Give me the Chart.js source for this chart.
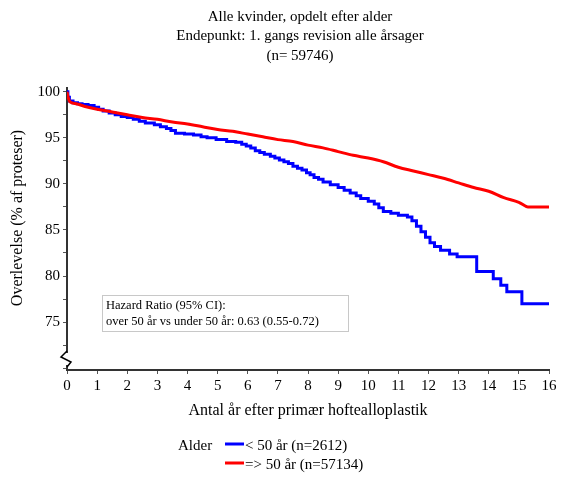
<!DOCTYPE html>
<html>
<head>
<meta charset="utf-8">
<script src="https://cdn.jsdelivr.net/npm/chart.js@4"></script>
<style>
  html, body { margin: 0; padding: 0; background: #fff; }
  #wrap { width: 561px; height: 477px; }
</style>
</head>
<body>
<div id="wrap"><canvas id="chart" width="561" height="477"></canvas></div>
<script>
const ctx = document.getElementById('chart').getContext('2d');

/**
 * Kaplan-Meier data
 */
var over50Years = [0, 0.03, 0.1, 0.3, 0.6, 1, 1.5, 2, 2.5, 3, 3.5, 4, 4.5, 5, 5.5, 6, 6.5, 7, 7.5, 8,
    8.5, 9, 9.5, 10, 10.5, 11, 11.5, 12, 12.5, 13, 13.5, 14, 14.5, 15, 15.3, 16];
var over50Surv = [100, 99.5, 98.9, 98.7, 98.4, 98.1, 97.8, 97.5, 97.2, 97.0, 96.7, 96.5, 96.2, 95.9, 95.7, 95.4,
    95.1, 94.8, 94.6, 94.2, 93.9, 93.5, 93.1, 92.8, 92.4, 91.8, 91.4, 91.0, 90.6, 90.1, 89.6, 89.2, 88.5, 88.0, 87.5, 87.5];

var under50Years = [0, 0.03, 0.08, 0.2, 0.35, 0.5, 0.7, 0.9, 1.05, 1.2, 1.4, 1.6, 1.8, 2.0, 2.2, 2.4, 2.6, 2.9,
    3.1, 3.3, 3.45, 3.6, 3.9, 4.2, 4.45, 4.65, 4.95, 5.3, 5.6, 5.8, 5.95, 6.1, 6.25, 6.4, 6.55, 6.75, 6.9,
    7.05, 7.2, 7.35, 7.5, 7.65, 7.8, 7.95, 8.07, 8.2, 8.35, 8.5, 8.74, 9.0, 9.2, 9.4, 9.6, 9.75, 10.0, 10.2,
    10.35, 10.5, 10.75, 11.0, 11.3, 11.45, 11.6, 11.75, 11.9, 12.05, 12.2, 12.4, 12.7, 12.95, 13.6, 14.15,
    14.4, 14.6, 15.1, 16];
var under50Surv = [100, 99.4, 99.0, 98.8, 98.7, 98.6, 98.5, 98.3, 98.1, 97.9, 97.7, 97.5, 97.3, 97.2, 97.0, 96.8, 96.6, 96.4,
    96.2, 96.0, 95.8, 95.5, 95.4, 95.3, 95.1, 95.0, 94.8, 94.6, 94.5, 94.3, 94.1, 93.9, 93.6, 93.4, 93.2, 93.0, 92.8,
    92.6, 92.4, 92.2, 91.9, 91.7, 91.5, 91.2, 91.0, 90.7, 90.5, 90.2, 89.9, 89.6, 89.3, 89.0, 88.7, 88.4, 88.1, 87.8,
    87.4, 87.0, 86.8, 86.6, 86.4, 86.0, 85.4, 84.8, 84.2, 83.6, 83.2, 82.8, 82.4, 82.1, 80.5, 79.7,
    79.0, 78.3, 77.0, 77.0];

/**
 * Texts
 */
const titleLines = ["Alle kvinder, opdelt efter alder", "Endepunkt: 1. gangs revision alle årsager", "(n= 59746)"];
const xTitle = "Antal år efter primær hoftealloplastik";
const yTitle = "Overlevelse (% af proteser)";
const hrLines = ["Hazard Ratio (95% CI):", "over 50 år vs under 50 år: 0.63 (0.55-0.72)"];
const legendTitle = "Alder";
const legendLabels = ["< 50 år (n=2612)", "=> 50 år (n=57134)"];
const legendColors = ['#0000ff', '#ff0000'];

const serif = '"Liberation Serif", "DejaVu Serif", serif';

function toPoints(xs, ys) {
    return xs.map((x, i) => ({x: x, y: ys[i]}));
}

// draws titles, hazard ratio box, axis break and legend
const decorations = {
    id: 'decorations',
    afterDraw(chart) {
        const c = chart.ctx;
        const area = chart.chartArea;
        c.save();
        c.fillStyle = '#000';
        c.textAlign = 'center';
        c.textBaseline = 'middle';

        //title
        c.font = '15px ' + serif;
        titleLines.forEach((t, i) => c.fillText(t, 300, 17 + i * 19.5));

        //x title
        c.font = '16px ' + serif;
        c.fillText(xTitle, 308, 411);

        //y title
        c.save();
        c.translate(18, 218);
        c.rotate(-Math.PI / 2);
        c.fillText(yTitle, 0, 0);
        c.restore();

        //hazard ratio box
        c.strokeStyle = '#c8c8c8';
        c.lineWidth = 1;
        c.strokeRect(102.5, 295.5, 246, 36);
        c.textAlign = 'left';
        c.font = '12.5px ' + serif;
        c.fillText(hrLines[0], 106, 306);
        c.fillText(hrLines[1], 106, 322);

        //axis break
        c.fillStyle = '#fff';
        c.fillRect(area.left - 2, 353, 4, 12);
        c.strokeStyle = '#000';
        c.lineWidth = 1.5;
        c.beginPath();
        c.moveTo(area.left, 351);
        c.lineTo(area.left - 6, 357);
        c.lineTo(area.left + 4, 362);
        c.lineTo(area.left, 367);
        c.stroke();

        //legend
        c.fillStyle = '#000';
        c.font = '15px ' + serif;
        c.fillText(legendTitle, 178, 446);
        legendLabels.forEach((t, i) => {
            var y = 446 + i * 19;
            c.strokeStyle = legendColors[i];
            c.lineWidth = 3;
            c.beginPath();
            c.moveTo(225, y - 2);
            c.lineTo(244, y - 2);
            c.stroke();
            c.fillText(t, 245, y);
        });
        c.restore();
    }
};

new Chart(ctx, {
    type: 'line',
    data: {
        datasets: [{
            label: legendLabels[1],
            data: toPoints(over50Years, over50Surv),
            borderColor: '#ff0000',
            backgroundColor: '#ff0000',
            borderWidth: 3,
            pointRadius: 0,
            cubicInterpolationMode: 'monotone',
        }, {
            label: legendLabels[0],
            data: toPoints(under50Years, under50Surv),
            borderColor: '#0000ff',
            backgroundColor: '#0000ff',
            borderWidth: 3,
            pointRadius: 0,
            stepped: true,
        }]
    },
    options: {
        responsive: false,
        animation: false,
        layout: {padding: {top: 88, right: 12, bottom: 57, left: 0}},
        plugins: {
            legend: {display: false},
            title: {display: false},
            tooltip: {enabled: false}
        },
        scales: {
            x: {
                type: 'linear',
                min: 0,
                max: 16,
                ticks: {stepSize: 1, color: '#000', font: {family: serif, size: 15}, padding: 3, maxRotation: 0},
                grid: {display: true, drawOnChartArea: false, drawTicks: true, tickLength: 4, color: '#555'},
                border: {display: true, color: '#333', width: 2},
                afterFit: (s) => { s.height = 50; }
            },
            y: {
                min: 69.8,
                max: 100.4,
                afterBuildTicks: (s) => {
                    var t = [];
                    for (var v = 70; v <= 100; v += 2.5) t.push({value: v});
                    s.ticks = t;
                },
                ticks: {
                    color: '#000',
                    font: {family: serif, size: 15},
                    padding: 3,
                    callback: (v) => (v % 5 === 0 && v >= 75) ? v : ''
                },
                grid: {display: true, drawOnChartArea: false, drawTicks: true, tickLength: 4, color: '#555'},
                border: {display: true, color: '#333', width: 2},
                afterFit: (s) => { s.width = 67; }
            }
        }
    },
    plugins: [decorations]
});
</script>
</body>
</html>
